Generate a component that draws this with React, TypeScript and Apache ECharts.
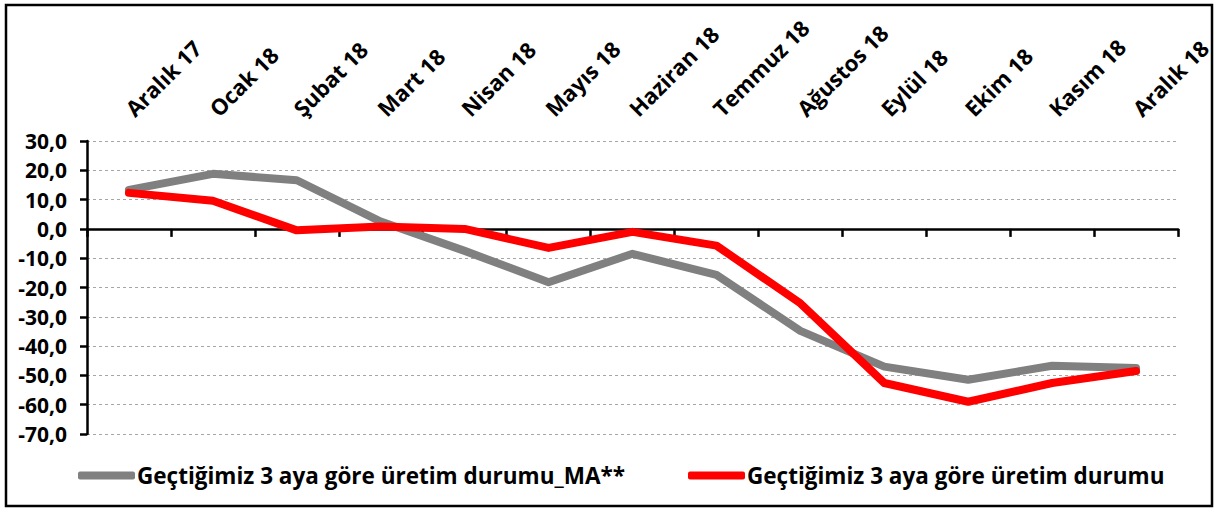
import React, { useEffect, useRef } from "react";
import * as echarts from "echarts";

const categories = [
  "Aralık 17", "Ocak 18", "Şubat 18", "Mart 18", "Nisan 18", "Mayıs 18",
  "Haziran 18", "Temmuz 18", "Ağustos 18", "Eylül 18", "Ekim 18", "Kasım 18", "Aralık 18",
];
const seriesMAName = "Geçtiğimiz 3 aya göre üretim durumu_MA**";
const seriesName = "Geçtiğimiz 3 aya göre üretim durumu";
const valuesMA = [13.3, 18.8, 16.6, 2.5, -7.5, -18.2, -8.5, -15.7, -34.8, -47.0, -51.5, -46.7, -47.5];
const values = [12.3, 9.6, -0.5, 0.8, 0.0, -6.5, -1.0, -5.7, -25.4, -52.6, -59.0, -52.6, -48.5];

const FONT = "Open Sans";

export default function App() {
  const ref = useRef<HTMLDivElement>(null);
  useEffect(() => {
    document.body.style.margin = "0";
    const chart = echarts.init(ref.current!, null, { renderer: "svg" });
    const labelStyle = { fontFamily: FONT, fontWeight: "bold" as const, fontSize: 21, color: "#000" };
    const legendText = { ...labelStyle, fontSize: 22.5, padding: [0, 0, 0, -3] };
    chart.setOption({
      animation: false,
      backgroundColor: "#fff",
      grid: { left: 87, right: 39, top: 141, bottom: 76, containLabel: false },
      graphic: [
        {
          type: "rect",
          shape: { x: 6, y: 5, width: 1206, height: 501 },
          style: { fill: "none", stroke: "#000", lineWidth: 2.5 },
          silent: true,
        },
      ],
      legend: [
        {
          data: [seriesMAName],
          left: 78,
          top: 464,
          padding: 0,
          itemWidth: 57,
          itemHeight: 8,
          icon: "roundRect",
          textStyle: legendText,
        },
        {
          data: [seriesName],
          left: 688,
          top: 464,
          padding: 0,
          itemWidth: 57,
          itemHeight: 8,
          icon: "roundRect",
          textStyle: legendText,
        },
      ],
      xAxis: [
        {
          type: "category",
          data: categories,
          boundaryGap: true,
          axisLine: { onZero: true, lineStyle: { color: "#000", width: 2.5 } },
          axisTick: { show: true, length: 8, lineStyle: { color: "#000", width: 2.5 } },
          axisLabel: { show: false },
          splitLine: { show: false },
        },
        {
          type: "category",
          data: categories,
          position: "top",
          boundaryGap: true,
          axisLine: { show: false },
          axisTick: { show: false },
          axisLabel: { ...labelStyle, fontSize: 22, rotate: -45, margin: 29, interval: 0 },
          splitLine: { show: false },
        },
      ],
      yAxis: {
        type: "value",
        min: -70,
        max: 30,
        interval: 10,
        axisLine: { show: true, onZero: false, lineStyle: { color: "#000", width: 2.5 } },
        axisTick: { show: true, length: 7, lineStyle: { color: "#000", width: 2.5 } },
        axisLabel: {
          ...labelStyle,
          margin: 20,
          formatter: (v: number) => v.toFixed(1).replace(".", ","),
        },
        splitLine: { show: true, lineStyle: { color: "#a6a6a6", type: [3, 3], width: 1 } },
      },
      series: [
        {
          name: seriesMAName,
          type: "line",
          data: valuesMA,
          xAxisIndex: 0,
          symbol: "none",
          lineStyle: { color: "#808080", width: 8, cap: "round", join: "round" },
          itemStyle: { color: "#808080" },
          z: 2,
        },
        {
          name: seriesName,
          type: "line",
          data: values,
          xAxisIndex: 0,
          symbol: "none",
          lineStyle: { color: "#ff0000", width: 8, cap: "round", join: "round" },
          itemStyle: { color: "#ff0000" },
          z: 3,
        },
      ],
    });
    return () => chart.dispose();
  }, []);
  return <div ref={ref} style={{ width: 1217, height: 510 }} />;
}
